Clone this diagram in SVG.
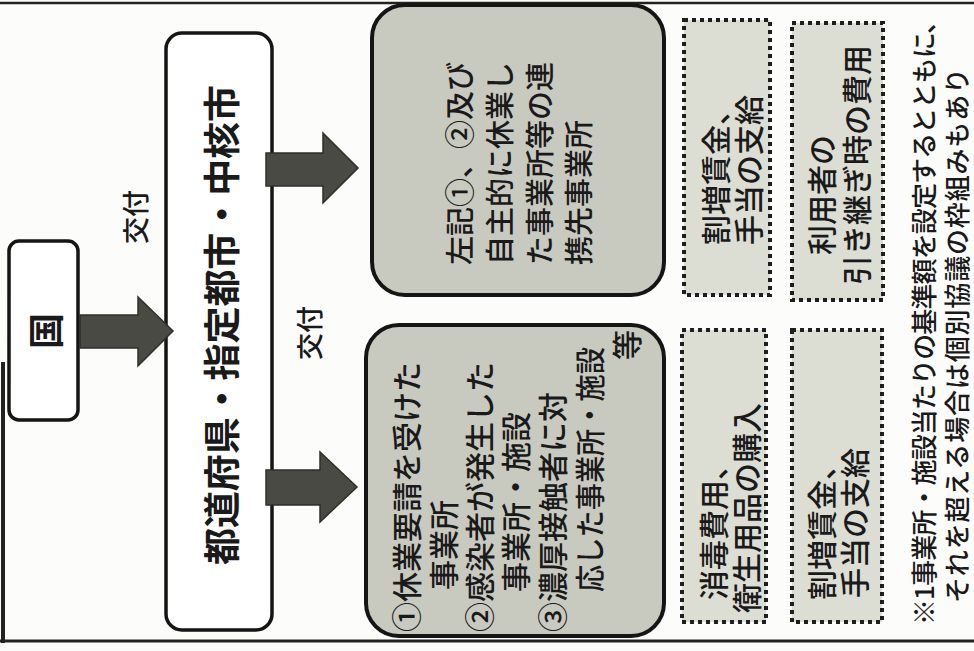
<svg xmlns="http://www.w3.org/2000/svg" width="974" height="651" viewBox="0 0 974 651">
<defs>
<style>
text { font-family: "Noto Sans CJK JP", "Noto Sans CJK SC", sans-serif; fill: #1a1a1a; dominant-baseline: central; }
.b { font-weight: bold; }
.m { font-weight: 500; }
.gray { fill: #c8c9bf; stroke: #151515; stroke-width: 4; }
.white { fill: #ffffff; stroke: #151515; stroke-width: 3.5; }
.dot { fill: #dcddd3; stroke: #1e1e1e; stroke-width: 4; stroke-dasharray: 4 4; }
.arrow { fill: #4a4a44; stroke: #2e2e2a; stroke-width: 1.5; }
.frame { stroke: #222; fill: none; }
</style>
</defs>
<rect x="0" y="0" width="974" height="651" fill="#fcfcfa"/>
<g id="frame">
<line class="frame" x1="0" y1="3" x2="974" y2="3" stroke-width="2.5"/>
<line class="frame" x1="0" y1="641" x2="974" y2="641" stroke-width="3"/>
<line class="frame" x1="3" y1="362" x2="3" y2="643" stroke-width="4"/>
</g>
<g id="kuni">
<rect class="white" x="9" y="241" width="69" height="179" rx="10"/>
<text class="b" x="44" y="331" transform="rotate(-90 44 331)" text-anchor="middle" font-size="36">国</text>
</g>
<g id="todofuken">
<rect class="white" x="166" y="33" width="106" height="597" rx="16"/>
<text class="b" x="220" y="325" transform="rotate(-90 220 325)" text-anchor="middle" font-size="37" textLength="480" lengthAdjust="spacing">都道府県・指定都市・中核市</text>
</g>
<g id="label-koufu-1">
<text class="m" x="134" y="217" transform="rotate(-90 134 217)" text-anchor="middle" font-size="27">交付</text>
</g>
<g id="label-koufu-2">
<text class="m" x="308" y="333" transform="rotate(-90 308 333)" text-anchor="middle" font-size="27">交付</text>
</g>
<g id="renkei">
<rect class="gray" x="372" y="5" width="292" height="290" rx="33"/>
<g class="m" font-size="29">
<text x="458" y="265" transform="rotate(-90 458 265)">左記①、②及び</text>
<text x="498" y="265" transform="rotate(-90 498 265)">自主的に休業し</text>
<text x="538" y="265" transform="rotate(-90 538 265)">た事業所等の連</text>
<text x="577" y="265" transform="rotate(-90 577 265)">携先事業所</text>
</g>
</g>
<g id="jigyousho">
<rect class="gray" x="366" y="325" width="298" height="311" rx="33"/>
<g class="m" font-size="30">
<text x="405" y="632" transform="rotate(-90 405 632)">①休業要請を受けた</text>
<text x="442" y="590" transform="rotate(-90 442 590)">事業所</text>
<text x="478" y="632" transform="rotate(-90 478 632)">②感染者が発生した</text>
<text x="514" y="592" transform="rotate(-90 514 592)">事業所・施設</text>
<text x="551" y="632" transform="rotate(-90 551 632)">③濃厚接触者に対</text>
<text x="588" y="592" transform="rotate(-90 588 592)" textLength="245" lengthAdjust="spacingAndGlyphs">応した事業所・施設</text>
<text x="625" y="345" transform="rotate(-90 625 345)" text-anchor="middle">等</text>
</g>
</g>
<g id="cost-1">
<rect class="dot" x="684" y="20" width="86" height="275"/>
<g class="m" font-size="30">
<text x="714" y="245" transform="rotate(-90 714 245)">割増賃金、</text>
<text x="747" y="245" transform="rotate(-90 747 245)">手当の支給</text>
</g>
</g>
<g id="cost-2">
<rect class="dot" x="792" y="23" width="91" height="277"/>
<g class="m" font-size="30">
<text x="820" y="255" transform="rotate(-90 820 255)">利用者の</text>
<text x="855" y="285" transform="rotate(-90 855 285)">引き継ぎ時の費用</text>
</g>
</g>
<g id="cost-3">
<rect class="dot" x="682" y="330" width="84" height="292"/>
<g class="m" font-size="30">
<text x="712" y="600" transform="rotate(-90 712 600)">消毒費用、</text>
<text x="745" y="613" transform="rotate(-90 745 613)">衛生用品の購入</text>
</g>
</g>
<g id="cost-4">
<rect class="dot" x="792" y="330" width="90" height="292"/>
<g class="m" font-size="30">
<text x="820" y="600" transform="rotate(-90 820 600)">割増賃金、</text>
<text x="853" y="598" transform="rotate(-90 853 598)">手当の支給</text>
</g>
</g>
<g id="note">
<g class="m" font-size="26">
<text x="922" y="625" transform="rotate(-90 922 625)" textLength="617" lengthAdjust="spacing">※1事業所・施設当たりの基準額を設定するとともに、</text>
<text x="955" y="603" transform="rotate(-90 955 603)" textLength="535" lengthAdjust="spacing">それを超える場合は個別協議の枠組みもあり</text>
</g>
</g>
<g id="connectors">
<polygon class="arrow" points="80,315 138,315 138,297 173,331 138,366 138,348 80,348"/>
<polygon class="arrow" points="266,153 323,153 323,133 358,168 323,203 323,186 266,186"/>
<polygon class="arrow" points="266,470 320,470 320,452 357,487 320,522 320,505 266,505"/>
</g>
</svg>
